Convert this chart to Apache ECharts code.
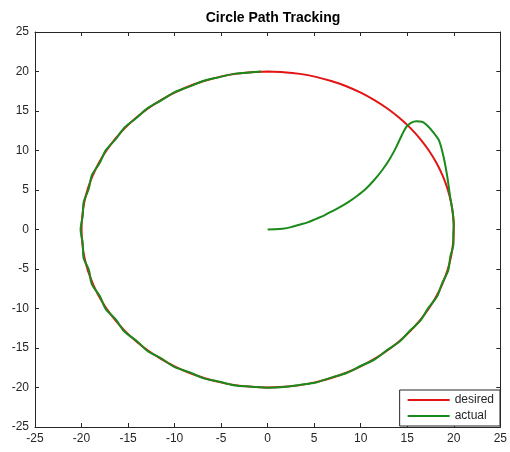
<!DOCTYPE html>
<html>
<head>
<meta charset="utf-8">
<script src="https://cdn.jsdelivr.net/npm/echarts@6/dist/echarts.min.js"></script>
<style>
  html, body { margin: 0; padding: 0; background: #fff; }
  #chart { width: 510px; height: 452px; }
</style>
</head>
<body>
<div id="chart"></div>
<script>
// desired path: circle of radius 20, every 5 degrees, clockwise from the top
const desired = [
  [0, 20], [1.74, 19.92], [3.47, 19.70], [5.18, 19.32], [6.84, 18.79], [8.45, 18.13],
  [10, 17.32], [11.47, 16.38], [12.86, 15.32], [14.14, 14.14], [15.32, 12.86], [16.38, 11.47],
  [17.32, 10], [18.13, 8.45], [18.79, 6.84], [19.32, 5.18], [19.70, 3.47], [19.92, 1.74],
  [20, 0], [19.92, -1.74], [19.70, -3.47], [19.32, -5.18], [18.79, -6.84], [18.13, -8.45],
  [17.32, -10], [16.38, -11.47], [15.32, -12.86], [14.14, -14.14], [12.86, -15.32], [11.47, -16.38],
  [10, -17.32], [8.45, -18.13], [6.84, -18.79], [5.18, -19.32], [3.47, -19.70], [1.74, -19.92],
  [0, -20], [-1.74, -19.92], [-3.47, -19.70], [-5.18, -19.32], [-6.84, -18.79], [-8.45, -18.13],
  [-10, -17.32], [-11.47, -16.38], [-12.86, -15.32], [-14.14, -14.14], [-15.32, -12.86], [-16.38, -11.47],
  [-17.32, -10], [-18.13, -8.45], [-18.79, -6.84], [-19.32, -5.18], [-19.70, -3.47], [-19.92, -1.74],
  [-20, 0], [-19.92, 1.74], [-19.70, 3.47], [-19.32, 5.18], [-18.79, 6.84], [-18.13, 8.45],
  [-17.32, 10], [-16.38, 11.47], [-15.32, 12.86], [-14.14, 14.14], [-12.86, 15.32], [-11.47, 16.38],
  [-10, 17.32], [-8.45, 18.13], [-6.84, 18.79], [-5.18, 19.32], [-3.47, 19.70], [-1.74, 19.92],
  [0, 20]
];

// actual path: from the origin out to the circle, then round it clockwise
const actual = [
  [0, 0], [0.8, 0.02], [1.6, 0.1], [2.5, 0.3], [3.4, 0.6], [4.3, 0.9], [5.2, 1.35],
  [6.1, 1.8], [6.9, 2.3], [7.8, 2.85], [8.7, 3.5], [9.6, 4.25], [10.5, 5.1], [11.4, 6.2],
  [12.3, 7.5], [13.1, 8.9], [13.8, 10.4], [14.4, 11.9], [14.9, 13.0], [15.4, 13.5],
  [16.0, 13.7], [16.6, 13.65], [17.2, 13.1], [17.8, 12.3], [18.4, 11.3], [18.9, 9.2],
  [19.3, 6.7], [19.6, 4.2], [19.9, 2.1], [20.0, 0.5], [19.95, -0.5],
  [19.97, -1.75], [19.62, -3.46], [19.40, -5.20], [18.74, -6.82], [18.20, -8.49],
  [17.25, -9.96], [16.43, -11.51], [15.27, -12.82], [14.18, -14.18], [12.82, -15.27],
  [11.51, -16.43], [9.98, -17.28], [8.47, -18.16], [6.82, -18.75], [5.19, -19.37],
  [3.47, -19.67], [1.75, -19.95], [0, -20.03], [-1.74, -19.89], [-3.48, -19.75],
  [-5.16, -19.27], [-6.86, -18.84], [-8.42, -18.06], [-10.04, -17.39], [-11.43, -16.32],
  [-12.91, -15.38], [-14.09, -14.09], [-15.40, -12.92], [-16.30, -11.41], [-17.41, -10.05],
  [-18.04, -8.41], [-18.91, -6.88], [-19.20, -5.15], [-19.80, -3.49], [-19.87, -1.74],
  [-20.1, 0], [-19.87, 1.74], [-19.77, 3.49], [-19.22, 5.15], [-18.89, 6.87],
  [-18.05, 8.42], [-17.39, 10.04], [-16.32, 11.43], [-15.38, 12.91], [-14.11, 14.11],
  [-12.89, 15.36], [-11.44, 16.34], [-10.03, 17.36], [-8.43, 18.08], [-6.85, 18.82],
  [-5.17, 19.29], [-3.48, 19.73], [-1.74, 19.89], [-0.70, 19.99]
];

const axisMin = -25;
const axisMax = 25;
const tickStep = 5;

const axisColor = "#262626";
const font = "Liberation Sans, Arial, sans-serif";

function makeAxis(pos, showLabel) {
  return {
    type: "value",
    position: pos,
    min: axisMin,
    max: axisMax,
    interval: tickStep,
    axisLine: { show: true, onZero: false, lineStyle: { color: axisColor, width: 1 } },
    axisTick: { show: true, inside: true, length: 4, lineStyle: { color: axisColor } },
    axisLabel: {
      show: showLabel,
      color: axisColor,
      fontSize: 12,
      fontFamily: font,
      margin: 6
    },
    splitLine: { show: false }
  };
}

const chart = echarts.init(document.getElementById("chart"));
chart.setOption({
  backgroundColor: "#fff",
  animation: false,
  title: {
    text: "Circle Path Tracking",
    left: 268,
    textAlign: "center",
    top: 6,
    textStyle: { fontSize: 14, fontWeight: "bold", color: "#000", fontFamily: font }
  },
  grid: { left: 35, right: 8, top: 32, bottom: 25 },
  xAxis: [makeAxis("bottom", true), makeAxis("top", false)],
  yAxis: [makeAxis("left", true), makeAxis("right", false)],
  legend: {
    orient: "vertical",
    right: 10,
    bottom: 26,
    backgroundColor: "#fff",
    borderColor: axisColor,
    borderWidth: 1,
    borderRadius: 0,
    padding: [4, 6, 4, 8],
    itemGap: 4,
    itemWidth: 42,
    itemHeight: 2,
    icon: "rect",
    textStyle: { fontSize: 12, color: axisColor, fontFamily: font },
    data: ["desired", "actual"]
  },
  series: [
    {
      name: "desired",
      type: "line",
      data: desired,
      showSymbol: false,
      symbol: "none",
      smooth: 0.3,
      lineStyle: { color: "#e31414", width: 2 },
      itemStyle: { color: "#e31414" }
    },
    {
      name: "actual",
      type: "line",
      data: actual,
      showSymbol: false,
      symbol: "none",
      smooth: 0.3,
      lineStyle: { color: "#1a8a1a", width: 2 },
      itemStyle: { color: "#1a8a1a" }
    }
  ]
});
</script>
</body>
</html>
